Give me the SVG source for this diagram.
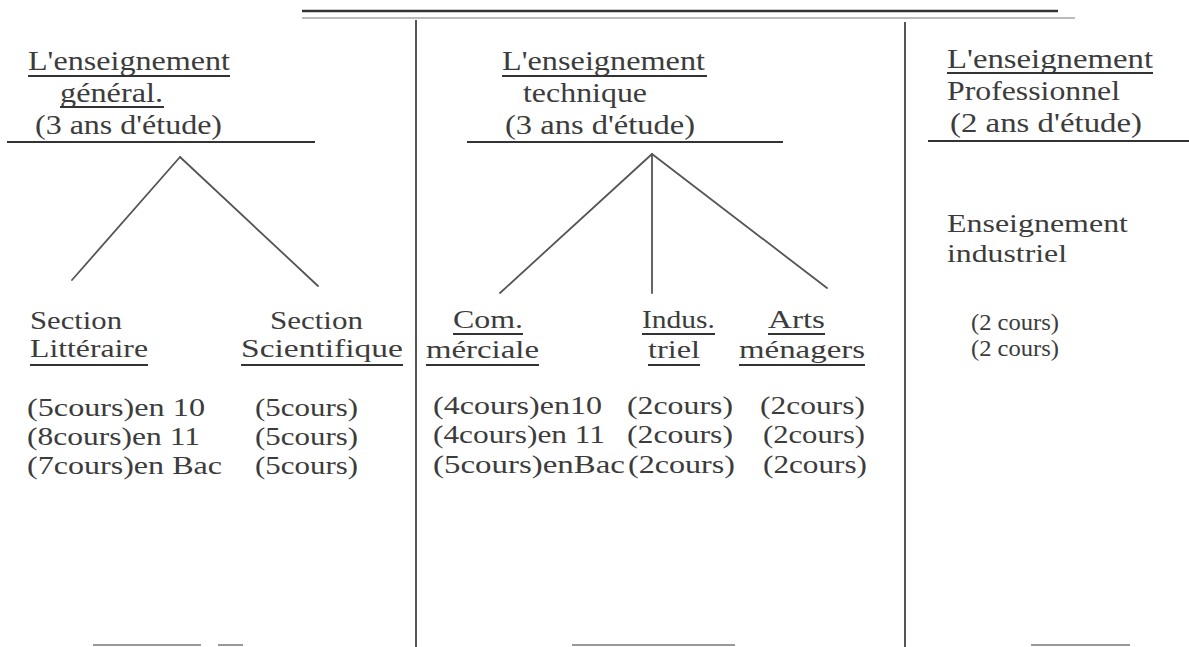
<svg xmlns="http://www.w3.org/2000/svg" width="1189" height="647" viewBox="0 0 1189 647">
<style>
text{font-family:"Liberation Serif","Times New Roman",serif;fill:#3c3c3c;}
.h{font-size:28px;}
.s{font-size:25px;}
.d{font-size:26px;}
.p{font-size:23px;}
.u{stroke:#333;stroke-width:1.8;}
.rule{stroke:#333;stroke-width:2.2;}
.frame{stroke:#555;stroke-width:2;fill:none;}
.conn{stroke:#555;stroke-width:1.8;fill:none;stroke-linecap:round;}
.faint{stroke:#999;stroke-width:2;}
</style>
<rect width="1189" height="647" fill="#fff"/>
<g id="frame">
<line class="frame" x1="302" y1="11" x2="1058" y2="11" style="stroke:#333;stroke-width:2.5"/>
<line class="frame" x1="302" y1="18" x2="1075" y2="18" style="stroke:#777;stroke-width:1.2"/>
<line class="frame" x1="416" y1="20" x2="416" y2="647"/>
<line class="frame" x1="905" y1="22" x2="905" y2="647"/>
<line class="faint" x1="93" y1="645" x2="201" y2="645"/>
<line class="faint" x1="218" y1="645" x2="243" y2="645"/>
<line class="faint" x1="572" y1="645" x2="735" y2="645"/>
<line class="faint" x1="1031" y1="645" x2="1130" y2="645"/>
</g>
<g id="general">
<text class="h" x="28" y="70" textLength="202" lengthAdjust="spacingAndGlyphs">L'enseignement</text>
<line class="u" x1="28" y1="76" x2="230" y2="76"/>
<text class="h" x="60" y="102" textLength="103" lengthAdjust="spacingAndGlyphs">général.</text>
<line class="u" x1="60" y1="107" x2="164" y2="107"/>
<text class="h" x="35" y="134" textLength="187" lengthAdjust="spacingAndGlyphs">(3 ans d'étude)</text>
<line class="rule" x1="7" y1="142" x2="315" y2="142"/>
</g>
<g id="technique">
<text class="h" x="502" y="70" textLength="203" lengthAdjust="spacingAndGlyphs">L'enseignement</text>
<line class="u" x1="502" y1="76" x2="707" y2="76"/>
<text class="h" x="523" y="102" textLength="124" lengthAdjust="spacingAndGlyphs">technique</text>
<text class="h" x="505" y="134" textLength="190" lengthAdjust="spacingAndGlyphs">(3 ans d'étude)</text>
<line class="rule" x1="467" y1="142" x2="783" y2="142"/>
</g>
<g id="professionnel">
<text class="h" x="947" y="68" textLength="206" lengthAdjust="spacingAndGlyphs">L'enseignement</text>
<line class="u" x1="947" y1="73" x2="1153" y2="73"/>
<text class="h" x="947" y="100" textLength="173" lengthAdjust="spacingAndGlyphs">Professionnel</text>
<text class="h" x="950" y="132" textLength="192" lengthAdjust="spacingAndGlyphs">(2 ans d'étude)</text>
<line class="rule" x1="928" y1="141" x2="1189" y2="141"/>
</g>
<g id="connectors">
<line class="conn" x1="180" y1="157" x2="72" y2="280"/>
<line class="conn" x1="180" y1="157" x2="318" y2="286"/>
<line class="conn" x1="652" y1="154" x2="500" y2="293"/>
<line class="conn" x1="652" y1="154" x2="652" y2="293"/>
<line class="conn" x1="652" y1="154" x2="827" y2="288"/>
</g>
<g id="litteraire">
<text class="s" x="30" y="329" textLength="92" lengthAdjust="spacingAndGlyphs">Section</text>
<text class="s" x="30" y="357" textLength="118" lengthAdjust="spacingAndGlyphs">Littéraire</text>
<line class="u" x1="30" y1="365" x2="148" y2="365"/>
<text class="d" x="27" y="416" textLength="178" lengthAdjust="spacingAndGlyphs">(5cours)en 10</text>
<text class="d" x="27" y="445" textLength="173" lengthAdjust="spacingAndGlyphs">(8cours)en 11</text>
<text class="d" x="27" y="474" textLength="195" lengthAdjust="spacingAndGlyphs">(7cours)en Bac</text>
</g>
<g id="scientifique">
<text class="s" x="270" y="329" textLength="93" lengthAdjust="spacingAndGlyphs">Section</text>
<text class="s" x="241" y="357" textLength="162" lengthAdjust="spacingAndGlyphs">Scientifique</text>
<line class="u" x1="241" y1="365" x2="403" y2="365"/>
<text class="d" x="255" y="416" textLength="103" lengthAdjust="spacingAndGlyphs">(5cours)</text>
<text class="d" x="255" y="445" textLength="103" lengthAdjust="spacingAndGlyphs">(5cours)</text>
<text class="d" x="255" y="474" textLength="103" lengthAdjust="spacingAndGlyphs">(5cours)</text>
</g>
<g id="commerciale">
<text class="s" x="453" y="328" textLength="70" lengthAdjust="spacingAndGlyphs">Com.</text>
<line class="u" x1="453" y1="334" x2="523" y2="334"/>
<text class="s" x="426" y="358" textLength="113" lengthAdjust="spacingAndGlyphs">mérciale</text>
<line class="u" x1="426" y1="365" x2="539" y2="365"/>
<text class="d" x="433" y="414" textLength="169" lengthAdjust="spacingAndGlyphs">(4cours)en10</text>
<text class="d" x="433" y="443" textLength="172" lengthAdjust="spacingAndGlyphs">(4cours)en 11</text>
<text class="d" x="433" y="473" textLength="192" lengthAdjust="spacingAndGlyphs">(5cours)enBac</text>
</g>
<g id="industriel">
<text class="s" x="642" y="328" textLength="73" lengthAdjust="spacingAndGlyphs">Indus.</text>
<line class="u" x1="642" y1="334" x2="715" y2="334"/>
<text class="s" x="648" y="358" textLength="52" lengthAdjust="spacingAndGlyphs">triel</text>
<line class="u" x1="648" y1="365" x2="700" y2="365"/>
<text class="d" x="627" y="414" textLength="106" lengthAdjust="spacingAndGlyphs">(2cours)</text>
<text class="d" x="627" y="443" textLength="106" lengthAdjust="spacingAndGlyphs">(2cours)</text>
<text class="d" x="628" y="473" textLength="107" lengthAdjust="spacingAndGlyphs">(2cours)</text>
</g>
<g id="arts-menagers">
<text class="s" x="768" y="328" textLength="57" lengthAdjust="spacingAndGlyphs">Arts</text>
<line class="u" x1="768" y1="334" x2="825" y2="334"/>
<text class="s" x="739" y="358" textLength="126" lengthAdjust="spacingAndGlyphs">ménagers</text>
<line class="u" x1="739" y1="365" x2="865" y2="365"/>
<text class="d" x="760" y="414" textLength="105" lengthAdjust="spacingAndGlyphs">(2cours)</text>
<text class="d" x="763" y="443" textLength="102" lengthAdjust="spacingAndGlyphs">(2cours)</text>
<text class="d" x="763" y="473" textLength="104" lengthAdjust="spacingAndGlyphs">(2cours)</text>
</g>
<g id="enseignement-industriel">
<text class="d" x="947" y="232" textLength="181" lengthAdjust="spacingAndGlyphs">Enseignement</text>
<text class="d" x="947" y="262" textLength="120" lengthAdjust="spacingAndGlyphs">industriel</text>
<text class="p" x="971" y="330" textLength="88" lengthAdjust="spacingAndGlyphs">(2 cours)</text>
<text class="p" x="971" y="356" textLength="88" lengthAdjust="spacingAndGlyphs">(2 cours)</text>
</g>
</svg>
